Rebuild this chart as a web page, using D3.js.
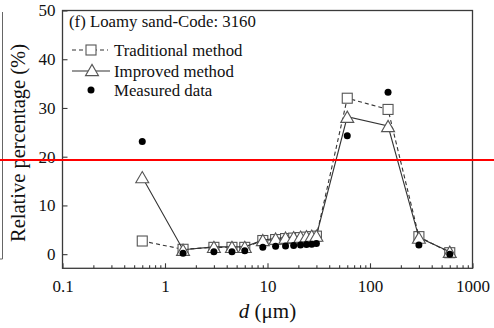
<!DOCTYPE html>
<html>
<head>
<meta charset="utf-8">
<script src="https://cdn.jsdelivr.net/npm/d3@7"></script>
<style>
  html, body { margin:0; padding:0; background:#fff; overflow:hidden; }
  svg { display:block; }
  text { font-family:"Liberation Serif","Times New Roman",serif; fill:#111; }
</style>
</head>
<body>
<div id="chart"></div>
<script>
// particle size classes (um)
const sizes = [0.6,1.5,3,4.5,6,9,12,15,18,21,24,27,30,60,150,300,600]
const traditional = [2.7,1.0,1.4,1.4,1.4,2.8,3.0,3.2,3.3,3.4,3.5,3.6,3.7,32.0,29.7,3.6,0.3]
const improved = [15.8,0.9,1.5,1.5,1.5,2.9,3.2,3.4,3.5,3.6,3.7,3.8,3.8,28.2,26.3,3.4,0.5]
const measured = [23.1,0.2,0.5,0.5,0.7,1.4,1.6,1.7,1.8,1.9,2.0,2.05,2.2,24.3,33.2,1.9,0.0]
const xTicks = [0.1,1,10,100,1000]
const xTickLabels = ["0.1","1","10","100","1000"]
const yTicks = [0,10,20,30,40,50]
const legendNames = ["Traditional method","Improved method","Measured data"]
const panelTitle = "(f) Loamy sand-Code: 3160"

const W = 494, H = 328
const margin = {top:10.5, right:21.5, bottom:59.7, left:62.5},
      width  = W - margin.left - margin.right,
      height = H - margin.top - margin.bottom

const x = d3.scaleLog().domain([0.1,1000]).range([0,width])
const y = d3.scaleLinear().domain([-2.9,50]).range([height,0])

const root = d3.select("#chart").append("svg")
  .attr("width",W).attr("height",H)
const svg = root.append("g")
  .attr("transform","translate(" + margin.left + "," + margin.top + ")")

const frameColor = "#3a3a3a"

//x axis major ticks
const xAx = svg.append("g")
  .attr("transform","translate(0," + height + ")")
  .call(d3.axisBottom(x)
    .tickValues(xTicks)
    .tickFormat((d,i)=>xTickLabels[i])
    .tickSize(-5)
    .tickPadding(12))
xAx.select(".domain").remove()
xAx.selectAll("line").attr("stroke",frameColor).attr("stroke-width",1.1)
xAx.selectAll("text").style("font-size","17px")

//x axis minor
const minor = []
for (let p=-1; p<3; p++) for (let k=2; k<10; k++) minor.push(k*Math.pow(10,p))
const xMin = svg.append("g")
  .attr("transform","translate(0," + height + ")")
  .call(d3.axisBottom(x).tickValues(minor).tickFormat('').tickSize(-3))
xMin.select(".domain").remove()
xMin.selectAll("line").attr("stroke",frameColor).attr("stroke-width",1.1)

//y axis
const yAx = svg.append("g")
  .call(d3.axisLeft(y)
    .tickValues(yTicks)
    .tickSize(-5)
    .tickPadding(7))
yAx.select(".domain").remove()
yAx.selectAll("line").attr("stroke",frameColor).attr("stroke-width",1.1)
yAx.selectAll("text").style("font-size","17px")

// frame
svg.append("rect")
  .attr("width",width).attr("height",height)
  .attr("fill","none").attr("stroke",frameColor).attr("stroke-width",1.3)

// axis titles
const xt = root.append("text")
  .attr("x",margin.left + width/2)
  .attr("y",318)
  .attr("text-anchor","middle")
  .style("font-size","21px")
xt.append("tspan").style("font-style","italic").text("d")
xt.append("tspan").text(" (\u03bcm)")

root.append("text")
  .attr("transform","translate(25,143) rotate(-90)")
  .attr("text-anchor","middle")
  .style("font-size","20.5px")
  .text("Relative percentage (%)")

const triPath = (s) => {
  const h = s*Math.sqrt(3)/2
  return "M0," + (-h/2) + "L" + (s/2) + "," + (h/2) + "L" + (-s/2) + "," + (h/2) + "Z"
}

const pts = (vals) => sizes.map((d,i)=>[d,vals[i]])
const line = d3.line().x(d=>x(d[0])).y(d=>y(d[1]))

// traditional
svg.append("path")
  .attr("d",line(pts(traditional)))
  .attr("fill","none").attr("stroke","#333").attr("stroke-width",1.1)
  .attr("stroke-dasharray","4,3")
svg.selectAll(".sq")
  .data(pts(traditional))
  .join("rect")
  .attr("class","sq")
  .attr("x",d=>x(d[0])-5).attr("y",d=>y(d[1])-5)
  .attr("width",10).attr("height",10)
  .attr("fill","#fff").attr("stroke","#555").attr("stroke-width",1.1)

// improved
svg.append("path")
  .attr("d",line(pts(improved)))
  .attr("fill","none").attr("stroke","#333").attr("stroke-width",1.1)
svg.selectAll(".tri")
  .data(pts(improved))
  .join("path")
  .attr("class","tri")
  .attr("transform",d=>"translate(" + x(d[0]) + "," + y(d[1]) + ")")
  .attr("d",triPath(13))
  .attr("fill","#fff").attr("stroke","#555").attr("stroke-width",1.1)

// measured
svg.selectAll(".dot")
  .data(pts(measured))
  .join("circle")
  .attr("class","dot")
  .attr("cx",d=>x(d[0])).attr("cy",d=>y(d[1]))
  .attr("r",3.5)
  .attr("fill","#000")

// legend
root.append("text").attr("x",69).attr("y",27).style("font-size","16.8px").text(panelTitle)
const lg = root.append("g")
lg.append("line").attr("x1",72).attr("x2",108).attr("y1",50).attr("y2",50)
  .attr("stroke","#333").attr("stroke-width",1.1).attr("stroke-dasharray","4,3")
lg.append("rect").attr("x",86).attr("y",45).attr("width",10).attr("height",10)
  .attr("fill","#fff").attr("stroke","#555").attr("stroke-width",1.1)
lg.append("line").attr("x1",72).attr("x2",110).attr("y1",71).attr("y2",71)
  .attr("stroke","#333").attr("stroke-width",1.1)
lg.append("path").attr("transform","translate(92,70)").attr("d",triPath(13))
  .attr("fill","#fff").attr("stroke","#555").attr("stroke-width",1.1)
lg.append("circle").attr("cx",91).attr("cy",90).attr("r",3.5).attr("fill","#000")
lg.selectAll("text.leg")
  .data(legendNames)
  .join("text")
  .attr("class","leg")
  .attr("x",114)
  .attr("y",(d,i)=>[55.5,76.5,96][i])
  .style("font-size","16.8px")
  .text(d=>d)

// stray bracket at the left edge
root.append("path").attr("d","M2.5,12V259H0")
  .attr("fill","none").attr("stroke","#666").attr("stroke-width",1)

// red reference line
root.append("line").attr("x1",0).attr("x2",W).attr("y1",160).attr("y2",160)
  .attr("stroke","#f00").attr("stroke-width",2)
</script>
</body>
</html>
